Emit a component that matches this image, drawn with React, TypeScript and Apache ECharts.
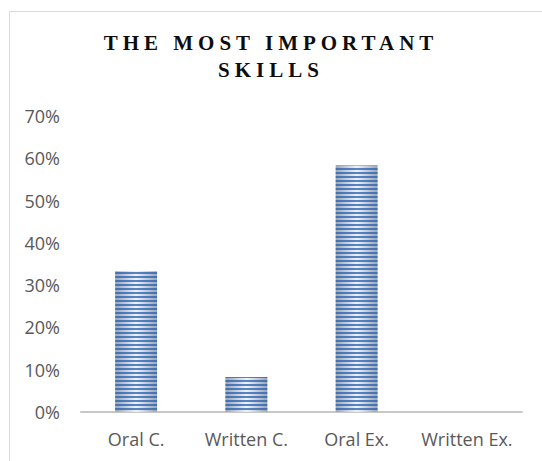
import React, { useEffect, useRef } from "react";
import * as echarts from "echarts";

const titleLines = ["THE MOST IMPORTANT", "SKILLS"];
const categories = ["Oral C.", "Written C.", "Oral Ex.", "Written Ex."];
const values = [0.333, 0.083, 0.583, 0];
const yMax = 0.7;
const yInterval = 0.1;

export default function App() {
  const ref = useRef<HTMLDivElement>(null);
  useEffect(() => {
    if (!ref.current) return;
    const chart = echarts.init(ref.current, undefined, { renderer: "svg" });
    chart.setOption({
      animation: false,
      backgroundColor: "#ffffff",
      title: {
        text: titleLines.join("\n"),
        left: "center",
        top: 24,
        textStyle: {
          fontFamily: "Liberation Serif",
          fontWeight: "bold",
          fontSize: 21,
          lineHeight: 27,
          color: "#0d0d0d",
        },
      },
      graphic: [
        {
          type: "rect",
          silent: true,
          shape: { x: 9.5, y: 11.5, width: 700, height: 600 },
          style: { fill: "none", stroke: "#d9d9d9", lineWidth: 1 },
        },
      ],
      grid: { left: 81, right: 20, top: 116, bottom: 49, containLabel: false },
      xAxis: {
        type: "category",
        data: categories,
        axisTick: { show: false },
        axisLine: { lineStyle: { color: "#c8c8c8", width: 2 } },
        axisLabel: {
          interval: 0,
          hideOverlap: false,
          color: "#595959",
          fontFamily: "Open Sans",
          fontSize: 18,
          margin: 18,
        },
      },
      yAxis: {
        type: "value",
        min: 0,
        max: yMax,
        interval: yInterval,
        splitLine: { show: false },
        axisLine: { show: false },
        axisTick: { show: false },
        axisLabel: {
          color: "#595959",
          fontFamily: "Open Sans",
          fontSize: 18,
          margin: 21,
          formatter: (v: number) => Math.round(v * 100) + "%",
        },
      },
      series: [
        {
          type: "bar",
          data: values,
          barWidth: "38%",
          itemStyle: {
            color: {
              type: "linear",
              x: 0,
              y: 0,
              x2: 1,
              y2: 0,
              colorStops: [
                { offset: 0, color: "#97a6ba" },
                { offset: 0.5, color: "#eef3fa" },
                { offset: 1, color: "#97a6ba" },
              ],
            },
            decal: {
              symbol: "rect",
              symbolSize: 1,
              color: "rgba(40, 95, 175, 0.75)",
              dashArrayX: [1, 0],
              dashArrayY: [2, 2],
              rotation: 0,
            },
          },
        },
      ],
    });
    const applySpacing = () => {
      const dom = ref.current;
      if (!dom) return;
      dom.querySelectorAll("text").forEach((t) => {
        if (titleLines.includes((t.textContent || "").trim())) {
          t.setAttribute("letter-spacing", "5px");
        }
      });
    };
    applySpacing();
    const timer = setTimeout(applySpacing, 30);
    chart.on("finished", applySpacing);
    return () => {
      clearTimeout(timer);
      chart.dispose();
    };
  }, []);
  return (
    <div
      ref={ref}
      style={{ position: "fixed", left: 0, top: 0, width: 542, height: 461 }}
    />
  );
}
